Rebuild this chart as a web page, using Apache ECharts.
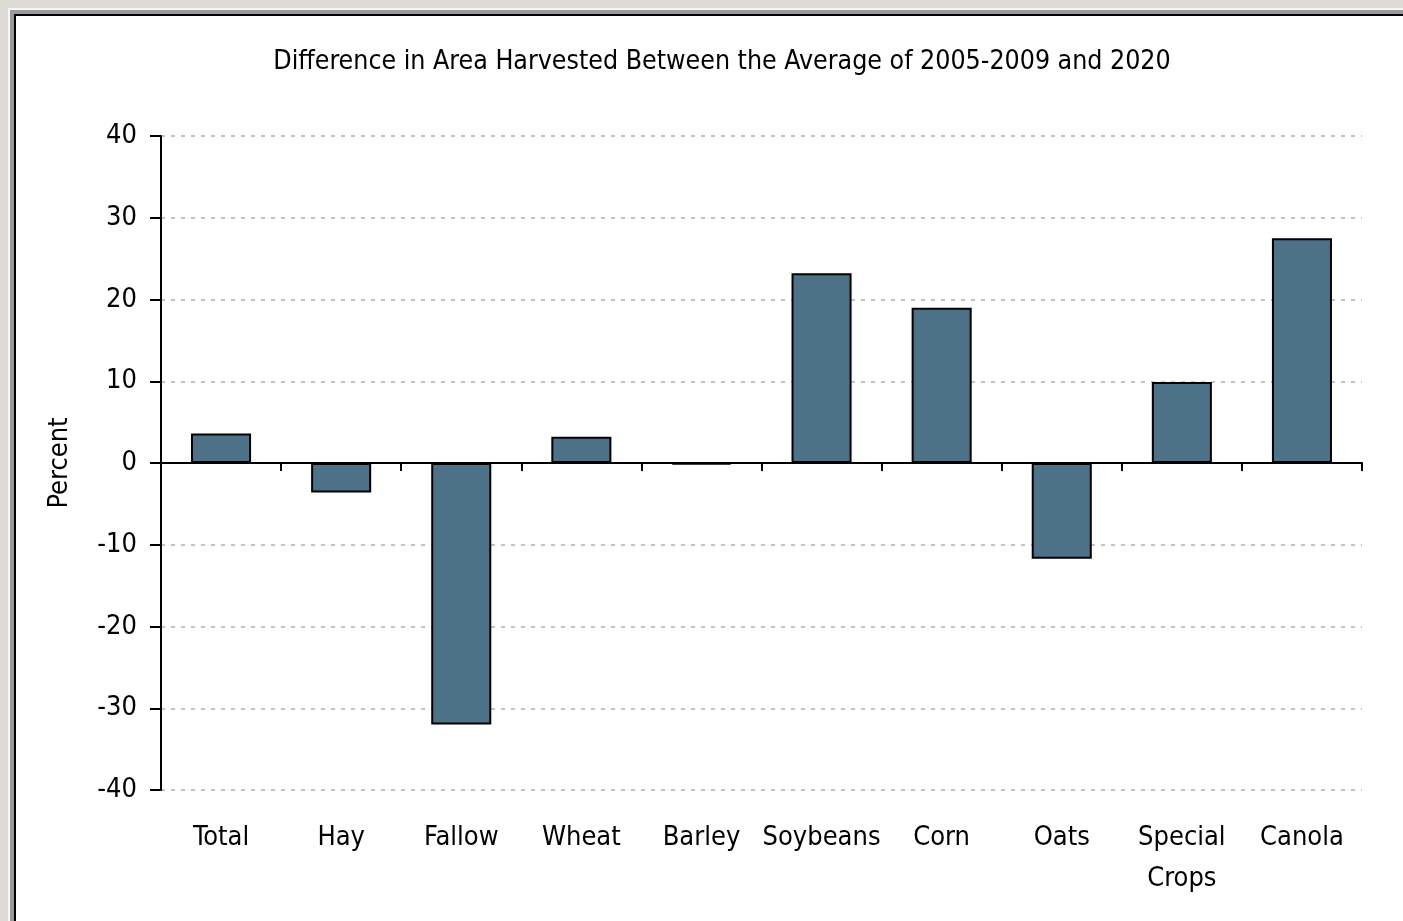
<!DOCTYPE html>
<html>
<head>
<meta charset="utf-8">
<script src="https://cdn.jsdelivr.net/npm/echarts@6/dist/echarts.min.js"></script>
<style>
  html, body { margin: 0; padding: 0; width: 1403px; height: 921px; overflow: hidden; background: #dedbd4; }
  .edge { position: absolute; left: 8px; top: 8px; right: 0; bottom: 0; background: #f6f6f6; }
  .grey { position: absolute; left: 10px; top: 10px; right: 0; bottom: 0; background: #9a9a9a; }
  .black { position: absolute; left: 14px; top: 14px; right: 0; bottom: 0; background: #000; }
  .paper { position: absolute; left: 16px; top: 16px; right: 0; bottom: 0; background: #fff; }
  #main { position: absolute; left: 0; top: 0; width: 1403px; height: 921px; }
</style>
</head>
<body>
<div class="edge"></div>
<div class="grey"></div>
<div class="black"></div>
<div class="paper"></div>
<div id="main"></div>
<script>
  // 作物类别
  const categories = ['Total', 'Hay', 'Fallow', 'Wheat', 'Barley', 'Soybeans', 'Corn', 'Oats', 'Special\nCrops', 'Canola'];
  // 百分比变化
  const values = [3.6, -3.6, -32.0, 3.2, -0.2, 23.2, 19.0, -11.7, 9.9, 27.5];
  const yTicks = { min: -40, max: 40, step: 10 };

  const font = "'DejaVu Sans Condensed', 'Liberation Sans Narrow', sans-serif";

  const option = {
    animation: false,
    title: {
      text: 'Difference in Area Harvested Between the Average of 2005-2009 and 2020',
      left: 717, top: 44, textAlign: 'center',
      textStyle: { fontFamily: font, fontSize: 26.5, fontWeight: 'normal', color: '#000' }
    },
    grid: { left: 161, right: 41, top: 136, bottom: 131 },
    xAxis: [
      {
        // 底部文字
        type: 'category', data: categories, position: 'bottom',
        axisLine: { show: false, onZero: false },
        axisTick: { show: false },
        axisLabel: { interval: 0, margin: 27, fontFamily: font, fontSize: 27, color: '#000', lineHeight: 41 }
      },
      {
        // 零线和刻度
        type: 'category', data: categories, position: 'bottom',
        axisLine: { show: true, onZero: true, lineStyle: { color: '#000', width: 2 } },
        axisTick: { show: true, interval: 0, length: 8, lineStyle: { color: '#000', width: 2 } },
        axisLabel: { show: false }
      }
    ],
    yAxis: {
      type: 'value', min: yTicks.min, max: yTicks.max, interval: yTicks.step,
      name: 'Percent', nameLocation: 'middle', nameGap: 88,
      nameTextStyle: { fontFamily: font, fontSize: 27, color: '#000' },
      axisLine: { show: true, lineStyle: { color: '#000', width: 2 } },
      axisTick: { show: true, length: 11, lineStyle: { color: '#000', width: 2 } },
      axisLabel: { margin: 24, fontFamily: font, fontSize: 27, color: '#000' },
      splitLine: { show: true, lineStyle: { color: '#b0b0b0', type: [4, 6], width: 1.5 } }
    },
    series: [{
      type: 'bar', xAxisIndex: 0, data: values, barWidth: '50%',
      itemStyle: { color: '#4d7187', borderColor: '#000', borderWidth: 2 }
    }]
  };

  const myChart = echarts.init(document.getElementById('main'));
  myChart.setOption(option);
</script>
</body>
</html>
